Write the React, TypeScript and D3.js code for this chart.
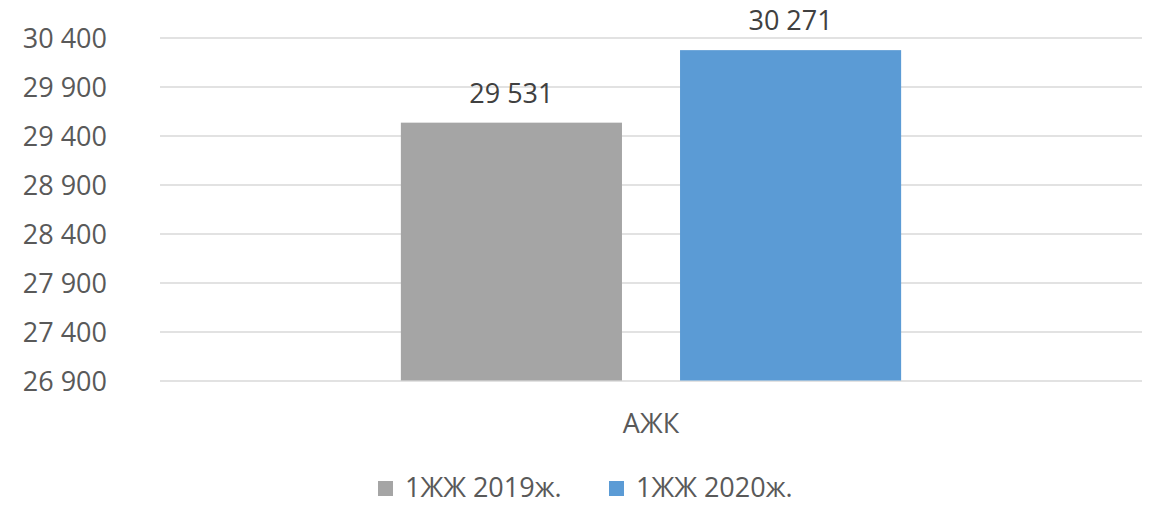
import { useEffect, useRef } from "react";
import { axisLeft, scaleBand, scaleLinear, select } from "d3";

const categories = ["АЖК"];
const seriesNames = ["1ЖЖ 2019ж.", "1ЖЖ 2020ж."];
const seriesColors = ["#A5A5A5", "#5B9BD5"];
const values2019 = [29531];
const values2020 = [30271];
const yTicks = [26900, 27400, 27900, 28400, 28900, 29400, 29900, 30400];

const fmt = (v: number) => String(v).replace(/\B(?=(\d{3})+(?!\d))/g, " ");

export default function App() {
  const ref = useRef<SVGSVGElement>(null);

  useEffect(() => {
    const width = 1153;
    const height = 505;
    const margin = { top: 37.5, right: 11, bottom: 124.5, left: 160 };
    const font = "'Open Sans', sans-serif";

    const svg = select(ref.current);
    svg.selectAll("*").remove();

    const x0 = scaleBand()
      .domain(categories)
      .range([margin.left, width - margin.right])
      .padding(0.325);

    const x1 = scaleBand()
      .domain(seriesNames)
      .range([0, x0.bandwidth()])
      .paddingInner(0.208);

    const y = scaleLinear()
      .domain([26900, 30400])
      .range([height - margin.bottom, margin.top]);

    // grid + tick labels
    const yAxis = svg.append("g")
      .attr("transform", `translate(${margin.left},0)`)
      .call(axisLeft(y).tickValues(yTicks).tickFormat((d) => fmt(d as number))
        .tickSize(-(width - margin.left - margin.right)).tickPadding(53));
    yAxis.select(".domain").remove();
    yAxis.selectAll(".tick line").attr("stroke", "#D9D9D9").attr("stroke-width", 1.4);
    yAxis.selectAll(".tick text")
      .attr("fill", "#595959")
      .style("font-family", font)
      .style("font-size", "27px")
      .attr("dy", "0.36em");

    const series = [values2019, values2020];
    const g = svg.append("g");
    categories.forEach((cat, ci) => {
      series.forEach((vals, si) => {
        const bx = (x0(cat) as number) + (x1(seriesNames[si]) as number);
        g.append("rect")
          .attr("x", bx)
          .attr("y", y(vals[ci]))
          .attr("width", x1.bandwidth())
          .attr("height", y(26900) - y(vals[ci]))
          .attr("fill", seriesColors[si]);
        g.append("text")
          .attr("x", bx + x1.bandwidth() / 2)
          .attr("y", y(vals[ci]) - 20)
          .attr("text-anchor", "middle")
          .attr("fill", "#404040")
          .style("font-family", font)
          .style("font-size", "27px")
          .text(fmt(vals[ci]));
      });
      svg.append("text")
        .attr("x", (x0(cat) as number) + x0.bandwidth() / 2)
        .attr("y", 433)
        .attr("text-anchor", "middle")
        .attr("fill", "#595959")
        .style("font-family", font)
        .style("font-size", "27px")
        .text(cat);
    });

    // legend
    const legendX = 378;
    const legendStep = 231;
    seriesNames.forEach((name, i) => {
      const item = svg.append("g")
        .attr("transform", `translate(${legendX + i * legendStep},497)`);
      item.append("rect").attr("width", 15).attr("height", 15)
        .attr("y", -16).attr("fill", seriesColors[i]);
      item.append("text")
        .attr("x", 27)
        .attr("fill", "#595959")
        .style("font-family", font)
        .style("font-size", "27px")
        .text(name);
    });
  }, []);

  return (
    <svg
      ref={ref}
      width={1153}
      height={505}
      style={{ position: "absolute", left: 0, top: 0, background: "#fff" }}
    />
  );
}
